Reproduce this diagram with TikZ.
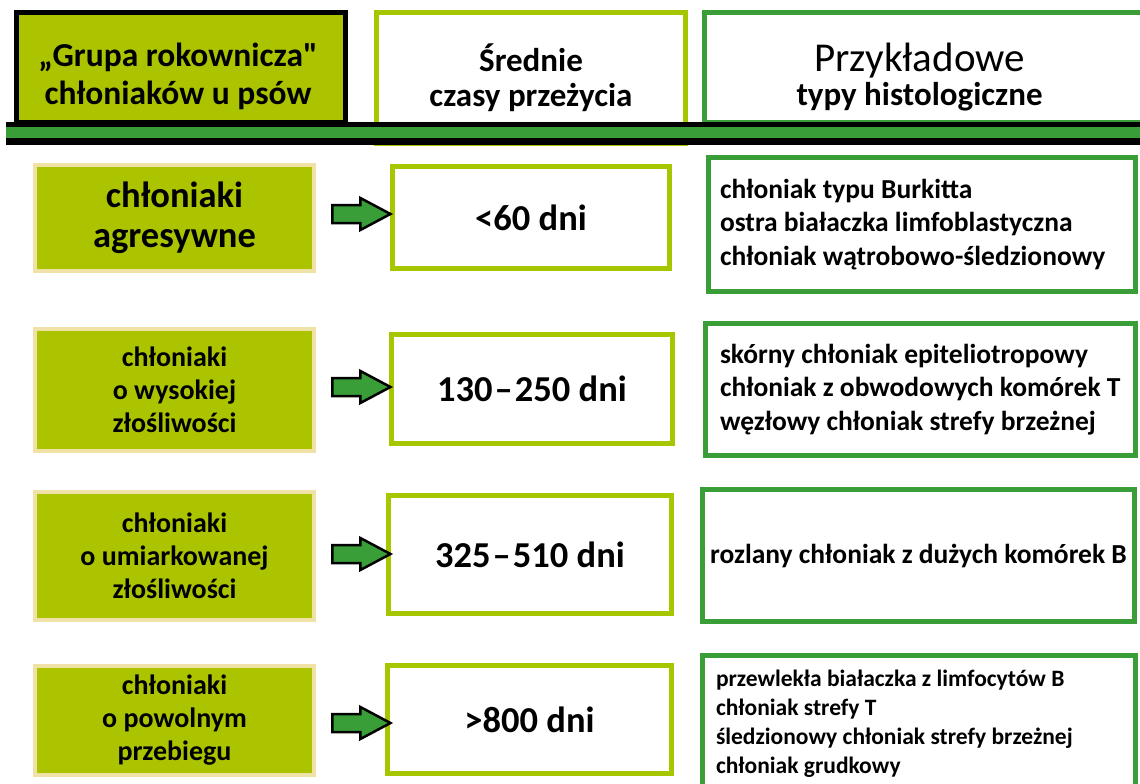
\documentclass[tikz,border=0pt]{standalone}
\usepackage{fontspec}
\setmainfont{Carlito}[Ligatures=TeXOff]
\usetikzlibrary{shapes.arrows}
\definecolor{olivec}{RGB}{172,196,0}
\definecolor{limec}{RGB}{166,198,0}
\definecolor{greenc}{RGB}{58,158,56}
\definecolor{tanc}{RGB}{240,226,166}
\tikzset{
 hbox/.style={line width=5pt, inner sep=0pt},
 htext/.style={align=center, inner sep=0pt},
 lbox/.style={draw=tanc, fill=olivec, line width=4pt, inner sep=0pt, align=center,
   minimum width=279pt, font=\bfseries\fontsize{28}{33}\selectfont},
 mbox/.style={draw=limec, fill=white, line width=5pt, inner sep=0pt, align=center,
   font=\bfseries\fontsize{36.5}{40}\selectfont},
 rbox/.style={draw=greenc, fill=white, line width=5pt, inner ysep=0pt,
   font=\bfseries\fontsize{27.5}{33.5}\selectfont},
 barrow/.style={single arrow, draw=black, fill=greenc, line width=2.5pt,
   minimum height=58pt, single arrow head extend=7pt, single arrow tip angle=56,
   inner xsep=0pt, inner ysep=7.75pt},
}
\begin{document}
\begin{tikzpicture}[x=1pt,y=-1pt]
\useasboundingbox (0,0) rectangle (1140,784);
% header boxes
\node[hbox, draw=black, fill=olivec, minimum width=329pt, minimum height=110pt] (h1) at (181,67.5) {};
\node[hbox, draw=limec, fill=white, minimum width=309pt, minimum height=131pt] (h2) at (531,78) {};
\node[hbox, draw=greenc, fill=white, minimum width=443pt, minimum height=110pt] (h3) at (926,67.5) {};
% bar
\fill[black] (6,121.7) rectangle (1145,145);
\fill[greenc] (6,126.7) rectangle (1145,138.3);
% header texts
\node[htext, font=\bfseries\fontsize{33.5}{38}\selectfont] (t1) at (178,76) {„Grupa rokownicza"\\chłoniaków u psów};
\node[htext, font=\bfseries\fontsize{33}{35}\selectfont] (t2) at (531,77.5) {Średnie\\czasy przeżycia};
\node[htext] (t3) at (919.5,77)
 {\fontsize{41}{44}\selectfont Przykładowe\\[3pt]\bfseries\fontsize{33}{36}\selectfont typy histologiczne};
% left boxes
\node[lbox, minimum height=106pt, font=\bfseries\fontsize{36.5}{40}\selectfont] (l1) at (174.5,218) {chłoniaki\\agresywne};
\node[lbox, minimum height=122pt] (l2) at (174.5,390) {chłoniaki\\o wysokiej\\złośliwości};
\node[lbox, minimum height=128pt] (l3) at (174.5,556) {chłoniaki\\o umiarkowanej\\złośliwości};
\node[lbox, minimum height=109pt] (l4) at (174.5,720.5) {chłoniaki\\o powolnym\\przebiegu};
% middle boxes
\node[mbox, minimum width=277pt, minimum height=102pt] (m1) at (531,217.5) {<60 dni};
\node[mbox, minimum width=281pt, minimum height=109pt] (m2) at (532,389) {130\kern2pt–\kern2pt250 dni};
\node[mbox, minimum width=283pt, minimum height=118pt] (m3) at (530,554.5) {325\kern2pt–\kern2pt510 dni};
\node[mbox, minimum width=284pt, minimum height=108pt] (m4) at (529.5,719.5) {>800 dni};
% arrows
\node[barrow] (a1) at (353,214) {};
\node[barrow] (a2) at (353,387) {};
\node[barrow] (a3) at (353,554) {};
\node[barrow] (a4) at (353,723) {};
% right boxes
\node[rbox, inner xsep=11.5pt, text width=404pt, minimum height=134pt, align=flush left] (r1) at (922,224.5)
 {chłoniak typu Burkitta\\ostra białaczka limfoblastyczna\\chłoniak wątrobowo-śledzionowy};
\node[rbox, inner xsep=14.5pt, text width=401pt, minimum height=132pt, align=flush left] (r2) at (920.5,389.5)
 {skórny chłoniak epiteliotropowy\\chłoniak z obwodowych komórek T\\węzłowy chłoniak strefy brzeżnej};
\node[rbox, inner xsep=0pt, minimum width=432pt, minimum height=132pt, align=center] (r3) at (918.5,555.5)
 {rozlany chłoniak z dużych komórek B};
\node[rbox, inner xsep=13.5pt, text width=406pt, minimum height=137pt, align=flush left,
  font=\bfseries\fontsize{23.5}{29}\selectfont] (r4) at (919,724)
 {przewlekła białaczka z limfocytów B\\chłoniak strefy T\\śledzionowy chłoniak strefy brzeżnej\\chłoniak grudkowy};
\end{tikzpicture}
\end{document}
